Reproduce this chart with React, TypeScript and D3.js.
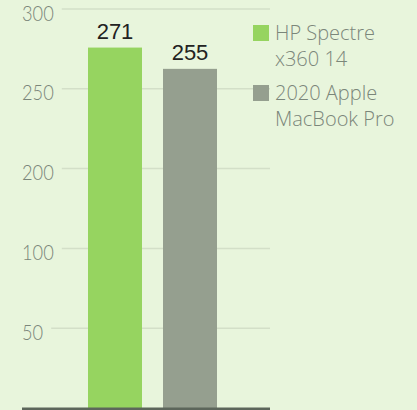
import React from "react";
import * as d3 from "d3";

const categories = ["HP Spectre x360 14", "2020 Apple MacBook Pro"];
const values = [271, 255];
const legendLines = [["HP Spectre", "x360 14"], ["2020 Apple", "MacBook Pro"]];
const colors = ["#96d460", "#959f8f"];
const yTickValues = [60, 120, 180, 240, 300];
const yTickLabels = ["50", "100", "200", "250", "300"];

const W = 417;
const H = 410;
const FONT = "Lato, 'Open Sans', sans-serif";

export default function App() {
  const y = d3.scaleLinear().domain([0, 300]).range([408, 9]);
  const x = d3.scaleBand<string>().domain(categories).range([67, 238]).paddingInner(0.28).paddingOuter(0.28);
  const labelX = 22;
  const gridEnd = 270;
  const charW = 10.6;

  return (
    <svg width={W} height={H} style={{ position: "fixed", left: 0, top: 0, background: "#e8f5dc" }}>
      <rect x={0} y={0} width={W} height={H} fill="#e8f5dc" />
      {yTickValues.map((v, i) => (
        <g key={v}>
          <line
            x1={labelX + yTickLabels[i].length * charW + 8}
            x2={gridEnd}
            y1={y(v)}
            y2={y(v)}
            stroke="#d3dfc8"
            strokeWidth={1.5}
          />
          <text x={labelX} y={y(v) + 11.5} fontFamily={FONT} fontWeight={300} fontSize={21.5} fill="#7b867a" textLength={yTickLabels[i].length * charW} lengthAdjust="spacingAndGlyphs">
            {yTickLabels[i]}
          </text>
        </g>
      ))}
      {categories.map((c, i) => (
        <g key={c}>
          <rect x={x(c)} y={y(values[i])} width={x.bandwidth()} height={y(0) - y(values[i])} fill={colors[i]} />
          <text
            x={(x(c) ?? 0) + x.bandwidth() / 2}
            y={y(values[i]) - 8.5}
            textAnchor="middle"
            fontFamily="'Liberation Sans', Arial, sans-serif"
            fontSize={22}
            fill="#222"
          >
            {values[i]}
          </text>
        </g>
      ))}
      <line x1={22} x2={gridEnd} y1={408.8} y2={408.8} stroke="#5c665b" strokeWidth={2.6} />
      {categories.map((c, i) => (
        <g key={"leg" + c} transform={`translate(253, ${25 + i * 60})`}>
          <rect x={0} y={0} width={16} height={16} fill={colors[i]} />
          {legendLines[i].map((t, j) => (
            <text key={t} x={22} y={15 + j * 25.5} fontFamily="'Open Sans', Lato, sans-serif" fontWeight={300} fontSize={20} fill="#7b867a">
              {t}
            </text>
          ))}
        </g>
      ))}
    </svg>
  );
}
